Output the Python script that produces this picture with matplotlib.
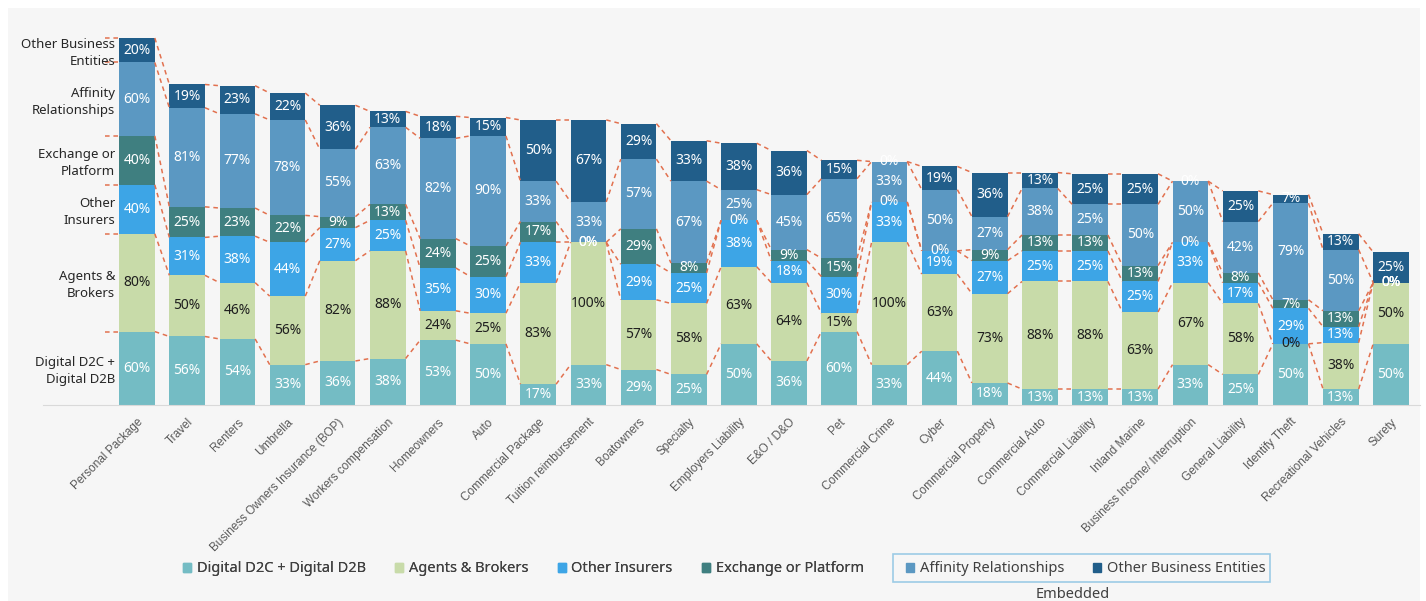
import matplotlib.pyplot as plt
import matplotlib.patches as mpatches
import matplotlib.transforms as mtransforms
import numpy as np

plt.rcParams['font.family'] = ['Noto Sans', 'DejaVu Sans']

lines_of_business = [
    'Personal Package', 'Travel', 'Renters', 'Umbrella',
    'Business Owners Insurance (BOP)', 'Workers compensation', 'Homeowners',
    'Auto', 'Commercial Package', 'Tuition reimbursement', 'Boatowners',
    'Specialty', 'Employers Liability', 'E&O / D&O', 'Pet', 'Commercial Crime',
    'Cyber', 'Commercial Property', 'Commercial Auto', 'Commercial Liability',
    'Inland Marine', 'Business Income/ Interruption', 'General Liability',
    'Identify Theft', 'Recreational Vehicles', 'Surety',
]

digital = [60, 56, 54, 33, 36, 38, 53, 50, 17, 33, 29, 25, 50, 36, 60, 33,
           44, 18, 13, 13, 13, 33, 25, 50, 13, 50]
agents = [80, 50, 46, 56, 82, 88, 24, 25, 83, 100, 57, 58, 63, 64, 15, 100,
          63, 73, 88, 88, 63, 67, 58, 0, 38, 50]
other_insurers = [40, 31, 38, 44, 27, 25, 35, 30, 33, 0, 29, 25, 38, 18, 30, 33,
                  19, 27, 25, 25, 25, 33, 17, 29, 13, 0]
exchange = [40, 25, 23, 22, 9, 13, 24, 25, 17, 0, 29, 8, 0, 9, 15, 0,
            0, 9, 13, 13, 13, 0, 8, 7, 13, 0]
affinity = [60, 81, 77, 78, 55, 63, 82, 90, 33, 33, 57, 67, 25, 45, 65, 33,
            50, 27, 38, 25, 50, 50, 42, 79, 50, 0]
other_business = [20, 19, 23, 22, 36, 13, 18, 15, 50, 67, 29, 33, 38, 36, 15, 0,
                  19, 36, 13, 25, 25, 0, 25, 7, 13, 25]

series_names = ['Digital D2C + Digital D2B', 'Agents & Brokers', 'Other Insurers',
                'Exchange or Platform', 'Affinity Relationships',
                'Other Business Entities']
row_labels = ['Digital D2C +\nDigital D2B', 'Agents &\nBrokers', 'Other\nInsurers',
              'Exchange or\nPlatform', 'Affinity\nRelationships',
              'Other Business\nEntities']
colors = ['#74BCC4', '#C8DBA9', '#3DA5E6', '#3F7F80', '#5B98C2', '#215E8A']
text_colors = ['white', '#1f1f1f', 'white', 'white', 'white', 'white']

series = np.array([digital, agents, other_insurers, exchange, affinity, other_business])
tops = np.cumsum(series, axis=0)
bottoms = tops - series

W, H = 1426, 601
fig = plt.figure(figsize=(W / 100, H / 100), dpi=100, facecolor='white')
fig.patches.append(mpatches.Rectangle((8 / W, 0), 1412 / W, 593 / H,
                                      transform=fig.transFigure,
                                      facecolor='#F6F6F6', edgecolor='none',
                                      zorder=-10))

base_px, top_px = 405, 30
ax = fig.add_axes([43 / W, (H - base_px) / H, 1377 / W, (base_px - top_px) / H])
ax.set_facecolor('none')

x = np.arange(len(lines_of_business))
width = 0.71
pitch = 50.16
ax.set_xlim(-(137 - 43) / pitch, -(137 - 43) / pitch + 1377 / pitch)
ax.set_ylim(0, 300 * (base_px - top_px) / (base_px - 38))

for k in range(len(series)):
    ax.bar(x, series[k], width, bottom=bottoms[k], color=colors[k],
           edgecolor='none', zorder=2)
    for i in x:
        ax.text(i, bottoms[k][i] + series[k][i] / 2, f'{series[k][i]}%',
                ha='center', va='center', fontsize=10, color=text_colors[k],
                zorder=4)

# dashed series lines between neighbouring bars
line_kw = dict(color='#E2714F', lw=1.1, ls=(0, (3, 2.5)), zorder=3)
for k in range(len(series)):
    ax.plot([-width / 2 - 0.28, -width / 2], [tops[k][0], tops[k][0]], **line_kw)
    for i in x[:-1]:
        ax.plot([i + width / 2, i + 1 - width / 2], [tops[k][i], tops[k][i + 1]],
                **line_kw)

# row names next to the first bar
for k in range(len(series)):
    ax.text(-width / 2 - 0.08, bottoms[k][0] + series[k][0] / 2 - 2, row_labels[k],
            ha='right', va='center', fontsize=9.5, color='#262626',
            linespacing=1.4)

ax.set_xticks(x)
ax.set_xticklabels(lines_of_business, rotation=45, ha='right',
                   rotation_mode='anchor', fontsize=8.5, color='#595959',
                   family=['Liberation Sans', 'DejaVu Sans'])
shift = mtransforms.ScaledTranslation(0.04, 0, fig.dpi_scale_trans)
for lab in ax.get_xticklabels():
    lab.set_transform(lab.get_transform() + shift)
ax.tick_params(axis='x', length=0, pad=8)
ax.set_yticks([])
for side in ['top', 'right', 'left']:
    ax.spines[side].set_visible(False)
ax.spines['bottom'].set_color('#D9D9D9')

handles = [mpatches.Patch(color=c) for c in colors]
leg_kw = dict(frameon=False, fontsize=10.5, handlelength=0.55, handleheight=0.55,
              handletextpad=0.4, labelcolor='#404040',
              borderpad=0, borderaxespad=0, loc='center left')
leg1 = fig.legend(handles[:4], series_names[:4], ncol=4, columnspacing=2.0,
                  bbox_to_anchor=(183 / W, (H - 569) / H), **leg_kw)
fig.add_artist(leg1)
fig.legend(handles[4:], series_names[4:], ncol=2, columnspacing=2.0,
           bbox_to_anchor=(906 / W, (H - 569) / H), **leg_kw)
fig.patches.append(mpatches.Rectangle((893 / W, (H - 582) / H), 377 / W, 28 / H,
                                      transform=fig.transFigure, facecolor='none',
                                      edgecolor='#9CCBE6', lw=1.2))
fig.text(1073 / W, (H - 594) / H, 'Embedded', ha='center', va='center',
         fontsize=10.5, color='#404040')

fig.savefig('out.png', dpi=100, facecolor=fig.get_facecolor())
